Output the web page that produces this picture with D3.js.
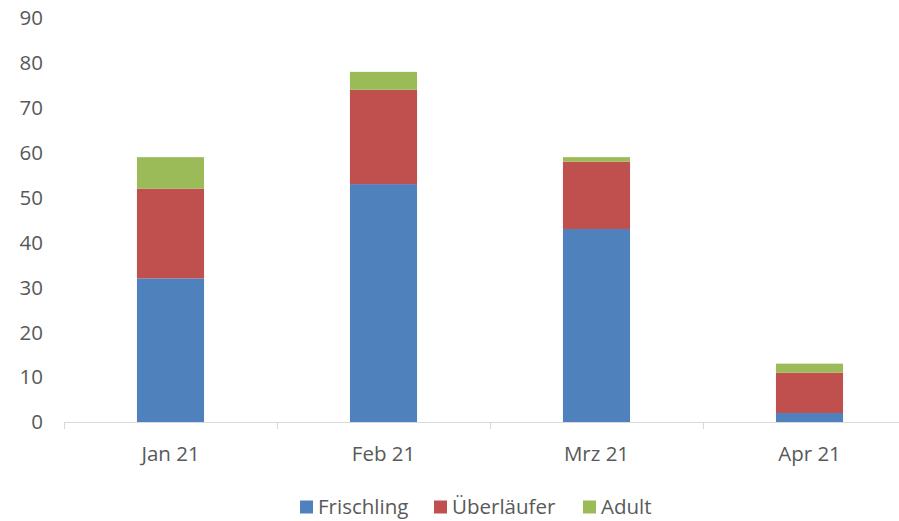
<!DOCTYPE html>
<html>
<head>
<meta charset="utf-8">
<script src="https://d3js.org/d3.v7.min.js"></script>
<style>
  body { margin: 0; background: #fff; }
  text { font-family: "Open Sans", Lato, sans-serif; fill: #595959; }
</style>
</head>
<body>
<div id="chart"></div>
<script>
// data
const months = ["Jan 21", "Feb 21", "Mrz 21", "Apr 21"];
const seriesNames = ["Frischling", "Überläufer", "Adult"];
const frischling = [32, 53, 43, 2];
const ueberlaeufer = [20, 21, 15, 9];
const adult = [7, 4, 1, 2];
const yTicks = [0, 10, 20, 30, 40, 50, 60, 70, 80, 90];
const colors = ["#4f81bd", "#c0504d", "#9bbb59"];

const width = 899, height = 521;

const svg = d3.select("#chart").append("svg")
    .attr("width", width)
    .attr("height", height);

const rows = months.map((m, i) => ({
    month: m,
    "Frischling": frischling[i],
    "Überläufer": ueberlaeufer[i],
    "Adult": adult[i]
}));

const stacked = d3.stack().keys(seriesNames)(rows);

const x = d3.scaleBand()
    .domain(months)
    .range([64, 916])
    .paddingInner(0.685)
    .paddingOuter(0.3425);

const y = d3.scaleLinear()
    .domain([0, 90])
    .range([422, 18]);

// y labels (no axis line, no gridlines)
svg.append("g")
    .selectAll("text")
    .data(yTicks)
    .enter()
    .append("text")
    .attr("x", 43)
    .attr("y", d => y(d))
    .attr("dy", "0.36em")
    .attr("text-anchor", "end")
    .style("font-size", "20.5px")
    .text(d => d);

// bars
svg.append("g")
    .selectAll("g")
    .data(stacked)
    .enter()
    .append("g")
    .attr("fill", (d, i) => colors[i])
    .selectAll("rect")
    .data(d => d)
    .enter()
    .append("rect")
    .attr("x", d => x(d.data.month))
    .attr("y", d => y(d[1]))
    .attr("width", x.bandwidth())
    .attr("height", d => y(d[0]) - y(d[1]));

// x axis
const step = x.step();
const xAxis = svg.append("g");
xAxis.append("line")
    .attr("x1", 64).attr("x2", 916)
    .attr("y1", 422.5).attr("y2", 422.5)
    .attr("stroke", "#d9d9d9");
xAxis.selectAll("line.tick")
    .data(d3.range(months.length + 1))
    .enter()
    .append("line")
    .attr("class", "tick")
    .attr("x1", i => 64 + i * step + 0.5)
    .attr("x2", i => 64 + i * step + 0.5)
    .attr("y1", 422).attr("y2", 429)
    .attr("stroke", "#d9d9d9");
xAxis.selectAll("text")
    .data(months)
    .enter()
    .append("text")
    .attr("x", d => x(d) + x.bandwidth() / 2)
    .attr("y", 454)
    .attr("dy", "0.36em")
    .attr("text-anchor", "middle")
    .style("font-size", "20.5px")
    .text(d => d);

// legend
const legendX = [300, 434, 583];
const legend = svg.append("g")
    .selectAll("g")
    .data(seriesNames)
    .enter()
    .append("g")
    .attr("transform", (d, i) => `translate(${legendX[i]},507)`);
legend.append("rect")
    .attr("x", 0).attr("y", -6.5)
    .attr("width", 13).attr("height", 13)
    .attr("fill", (d, i) => colors[i]);
legend.append("text")
    .attr("x", 18)
    .attr("y", 0)
    .attr("dy", "0.36em")
    .style("font-size", "20.5px")
    .text(d => d);
</script>
</body>
</html>
